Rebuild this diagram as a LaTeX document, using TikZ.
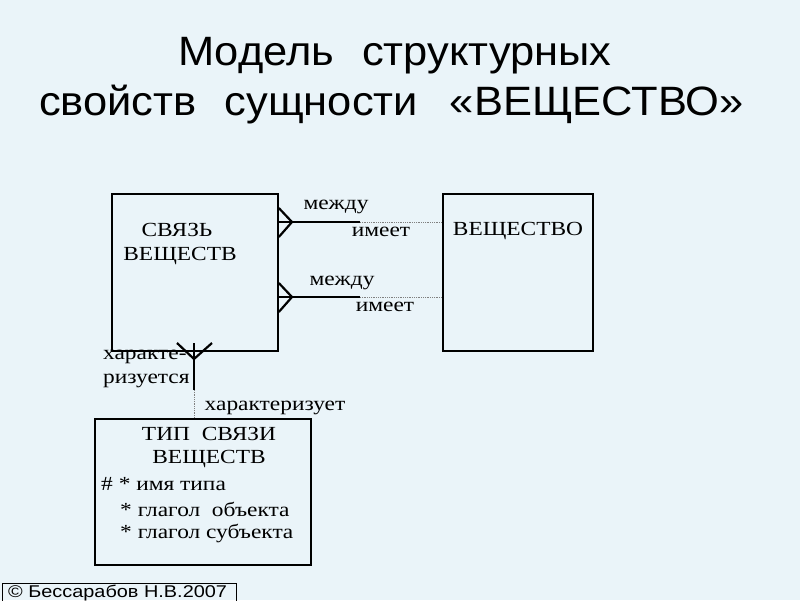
\documentclass[tikz,border=0pt]{standalone}
\usepackage{fontspec}
\usepackage{graphicx}
\setmainfont{Liberation Serif}
\setsansfont{Liberation Sans}
\usetikzlibrary{calc}
\definecolor{bg}{HTML}{EAF4F9}
\newcommand\hx[1]{\scalebox{1.17}[1]{#1}}
\newcommand\tx[1]{\scalebox{1.06}[1]{#1}}
\begin{document}
\begin{tikzpicture}[x=1pt,y=-1pt,
  ent/.style={draw=black,line width=1.8pt,anchor=north west,inner sep=0pt},
  lbl/.style={font=\fontsize{20}{24}\selectfont,inner sep=0pt},
  ttl/.style={font=\sffamily\fontsize{41}{48}\selectfont,inner sep=0pt,anchor=base west},
  crow/.style={line width=2.2pt},
  dots/.style={densely dotted,gray,line width=0.8pt}]
\fill[bg] (0,0) rectangle (800,600);
\useasboundingbox (0,0) rectangle (800,600);
% title
\node[ttl] (title1) at (178,65) {\tx{Модель}\hspace{28pt}\tx{структурных}};
\node[ttl] (title2) at (39,115) {\tx{свойств}\hspace{28pt}\tx{сущности}\hspace{32pt}\tx{«ВЕЩЕСТВО»}};
% entities
\node[ent,minimum width=166pt,minimum height=157pt] (svyaz) at (111,193) {};
\node[ent,minimum width=150pt,minimum height=157pt] (veshch) at (442,193) {};
\node[ent,minimum width=216pt,minimum height=146pt] (tip) at (94,418) {};
\node[lbl] (t1) at (177,230) {\hx{СВЯЗЬ}};
\node[lbl] (t2) at (180,256) {\hx{ВЕЩЕСТВ}};
\node[lbl] (t3) at (518,231) {\hx{ВЕЩЕСТВО}};
\node[lbl] (t4) at (209,434) {\hx{ТИП\ \ СВЯЗИ}};
\node[lbl] (t5) at (209,459) {\hx{ВЕЩЕСТВ}};
\node[lbl,anchor=west] (t6) at (101,484) {\hx{\# * имя типа}};
\node[lbl,anchor=west] (t7) at (120,509) {\hx{* глагол\ \ объекта}};
\node[lbl,anchor=west] (t8) at (120,533) {\hx{* глагол субъекта}};
% relationship 1
\coordinate (a1) at (292,222);
\coordinate (b1) at (360,222);
\coordinate (c1) at (veshch.west |- a1);
\draw[crow] (svyaz.east |- 0,208) -- (a1) -- (svyaz.east |- 0,237);
\draw[crow] (svyaz.east |- a1) -- (b1);
\draw[dots] (b1) -- (c1);
\node[lbl] (m1) at (336,207) {\hx{между}};
\node[lbl] (i1) at (381,232) {\hx{имеет}};
% relationship 2
\coordinate (a2) at (292,297);
\coordinate (b2) at (360,297);
\coordinate (c2) at (veshch.west |- a2);
\draw[crow] (svyaz.east |- 0,283) -- (a2) -- (svyaz.east |- 0,312);
\draw[crow] (svyaz.east |- a2) -- (b2);
\draw[dots] (b2) -- (c2);
\node[lbl] (m2) at (342,283) {\hx{между}};
\node[lbl] (i2) at (385,307) {\hx{имеет}};
% relationship 3
\coordinate (a3) at (194,359);
\coordinate (s3) at (194,343);
\coordinate (b3) at (194,390);
\coordinate (c3) at (tip.north -| a3);
\draw[crow] (177,343) -- (a3) -- (212,343);
\draw[crow] (s3) -- (b3);
\draw[dots] (b3) -- (c3);
\node[lbl,anchor=west,align=left] (k1) at (103,369) {\hx{характе-}\\\hx{ризуется}};
\node[lbl] (k2) at (275,408) {\hx{характеризует}};
% copyright
\draw[line width=1pt] (2,605) -- (2,583) -- (236,583) -- (236,605);
\node[font=\sffamily\fontsize{17}{20}\selectfont,inner sep=0pt,anchor=base west] (copy) at (8,597) {\hx{© Бессарабов Н.В.2007}};
\end{tikzpicture}
\end{document}
